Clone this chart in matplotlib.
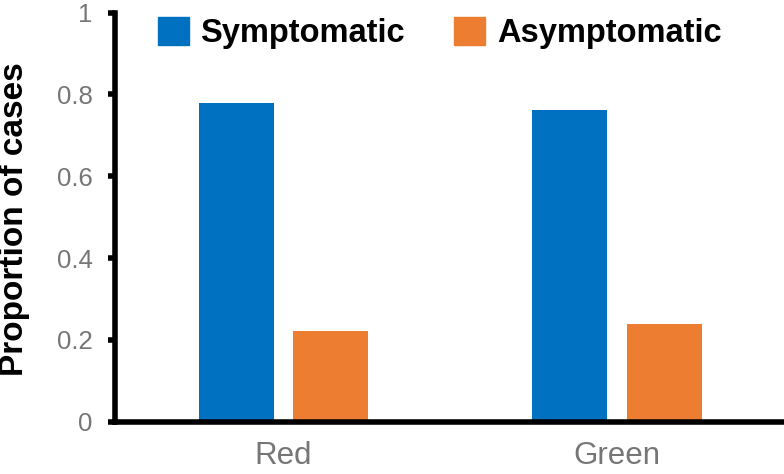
import numpy as np
import matplotlib.pyplot as plt
from matplotlib.patches import Patch

# data
groups = ['Red', 'Green']
symptomatic = [0.780, 0.762]
asymptomatic = [0.222, 0.239]
series_names = ['Symptomatic', 'Asymptomatic']
yticks = [0, 0.2, 0.4, 0.6, 0.8, 1]
ytick_labels = ['0', '0.2', '0.4', '0.6', '0.8', '1']

blue = '#0070C0'
orange = '#ED7D31'
grey = '#767676'

plt.rcParams['font.family'] = ['Liberation Sans', 'DejaVu Sans']

fig = plt.figure(figsize=(7.84, 4.74), dpi=100)
ax = fig.add_axes([115 / 784, 1 - 421.7 / 474, 1 - 115 / 784, (421.7 - 12.7) / 474])

x = np.arange(len(groups))
w = 0.225
off = 0.1415
ax.bar(x - off, symptomatic, width=w, color=blue)
ax.bar(x + off, asymptomatic, width=w, color=orange)

ax.set_xlim(-0.505, 1.5)
ax.set_ylim(0, 1)
ax.set_xticks(x)
ax.set_xticklabels(groups, fontsize=22.5, color=grey)
ax.set_yticks(yticks)
ax.set_yticklabels(ytick_labels, fontsize=18.5, color=grey)
ax.tick_params(axis='x', length=0, pad=14)
ax.tick_params(axis='y', direction='out', length=5, width=4, pad=11)

for s in ['top', 'right']:
    ax.spines[s].set_visible(False)
for s in ['left', 'bottom']:
    ax.spines[s].set_linewidth(4)
ax.spines['left'].set_capstyle('projecting')

fig.text(15 / 784, 1 - 219 / 474, 'Proportion of cases', rotation=90,
         ha='center', va='center', fontsize=24, fontweight='bold')

handles = [Patch(color=blue), Patch(color=orange)]
fig.legend(handles, series_names, loc='center', bbox_to_anchor=(439.5 / 784, 1 - 33 / 474),
           ncol=2, frameon=False, prop={'size': 23.5, 'weight': 'bold'},
           handlelength=0.95, handleheight=0.95, handletextpad=0.36,
           columnspacing=1.5, borderpad=0, borderaxespad=0)

fig.savefig('out.png', dpi=100)
